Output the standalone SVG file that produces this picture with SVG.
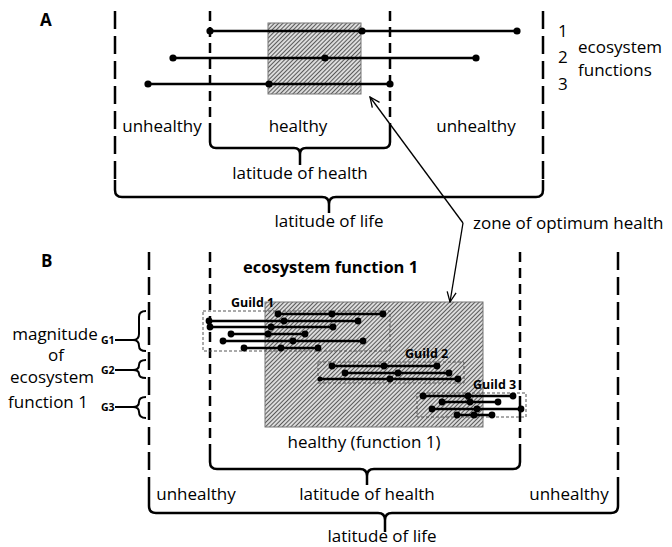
<svg xmlns="http://www.w3.org/2000/svg" width="672" height="547" viewBox="0 0 672 547">
<defs>
<pattern id="hatch" patternUnits="userSpaceOnUse" width="3" height="3" patternTransform="rotate(45)">
<rect width="3" height="3" fill="#dcdcdc"/>
<line x1="0.5" y1="0" x2="0.5" y2="3" stroke="#5a5a5a" stroke-width="1"/>
</pattern>
<marker id="arr" viewBox="0 0 12 12" refX="11" refY="6" markerWidth="12" markerHeight="12" markerUnits="userSpaceOnUse" orient="auto"><path d="M1,1.5 L11,6 L1,10.5" fill="none" stroke="#000" stroke-width="1.3"/></marker>
</defs>
<style>
text{font-family:"Open Sans","Liberation Sans",sans-serif;fill:#000}
.t{font-size:17px}
.m{text-anchor:middle}
.b{font-weight:700}
.dl{stroke:#000;stroke-width:2.5;fill:none;stroke-dasharray:18 7}
.ds{stroke:#000;stroke-width:2.5;fill:none;stroke-dasharray:10 6}
.br{stroke:#000;stroke-width:2.5;fill:none}
.gbr{stroke:#000;stroke-width:2;fill:none}
.fl{stroke:#000;stroke-width:2.5}
.hz{fill:url(#hatch);stroke:#777;stroke-width:1}
.gb{fill:none;stroke:#555;stroke-width:1;stroke-dasharray:3 2}
.c{stroke:#000;stroke-width:1.3;fill:none}
.g{font-size:12.5px;font-weight:700}
.gl{font-size:10.5px;font-weight:700}
</style>
<rect width="672" height="547" fill="#fff"/>

<!-- Panel A -->
<g id="panelA">
<text x="40" y="26" class="b" font-size="17">A</text>
<rect id="zoneA" class="hz" x="268" y="23" width="93" height="71"/>
<g id="boundsA">
<line class="dl" x1="115" y1="11" x2="115" y2="180"/>
<line class="dl" x1="543" y1="11" x2="543" y2="180"/>
<line class="ds" x1="210" y1="11" x2="210" y2="132"/>
<line class="ds" x1="390" y1="11" x2="390" y2="132"/>
</g>
<g id="functionsA">
<line class="fl" x1="210" y1="31" x2="517" y2="31"/>
<circle cx="210" cy="31" r="3.6"/><circle cx="362" cy="31" r="3.6"/><circle cx="517" cy="31" r="3.6"/>
<line class="fl" x1="173" y1="58" x2="476" y2="58"/>
<circle cx="173" cy="58" r="3.6"/><circle cx="325" cy="58" r="3.6"/><circle cx="476" cy="58" r="3.6"/>
<line class="fl" x1="148" y1="84" x2="390" y2="84"/>
<circle cx="148" cy="84" r="3.6"/><circle cx="269" cy="84" r="3.6"/><circle cx="390" cy="84" r="3.6"/>
</g>
<g id="labelsA">
<text class="t" x="558" y="37">1</text>
<text class="t" x="558" y="63">2</text>
<text class="t" x="558" y="90">3</text>
<text class="t" x="578" y="53">ecosystem</text>
<text class="t" x="578" y="76">functions</text>
<text class="t m" x="162" y="132">unhealthy</text>
<text class="t m" x="298" y="132">healthy</text>
<text class="t m" x="476" y="132">unhealthy</text>
</g>
<g id="healthBraceA">
<path class="br" d="M210,132 L210,142 Q210,148 216,148 L294,148 Q300,148 300,154 L300,165 M300,154 Q300,148 306,148 L384,148 Q390,148 390,142 L390,132"/>
<text class="t m" x="300" y="179">latitude of health</text>
</g>
<g id="lifeBraceA">
<path class="br" d="M115,180 L115,190 Q115,197 122,197 L322,197 Q329,197 329,204 L329,213 M329,204 Q329,197 336,197 L536,197 Q543,197 543,190 L543,180"/>
<text class="t m" x="329" y="227">latitude of life</text>
</g>
</g>

<g id="zoneLabel">
<text class="t" x="473" y="229">zone of optimum health</text>
</g>

<!-- Panel B -->
<g id="panelB">
<text x="41" y="267" class="b" font-size="17">B</text>
<text x="243" y="273" class="b" font-size="16.5">ecosystem function 1</text>
<rect id="zoneB" class="hz" x="265" y="302" width="218" height="125"/>
<g id="boundsB">
<line class="dl" x1="149" y1="252" x2="149" y2="495"/>
<line class="dl" x1="618" y1="252" x2="618" y2="495"/>
<line class="ds" x1="210" y1="252" x2="210" y2="447"/>
<line class="ds" x1="520" y1="252" x2="520" y2="447"/>
</g>
<g id="axisLabel">
<text class="t m" x="55" y="340">magnitude</text>
<text class="t m" x="56" y="361">of</text>
<text class="t m" x="52" y="383">ecosystem</text>
<text class="t m" x="48" y="408">function 1</text>
</g>
<g id="G1">
<text class="gl" x="101" y="344">G1</text>
<path class="gbr" d="M146,311 Q139,311 139,317 L139,334 Q139,340 133,340 L115,340 M133,340 Q139,340 139,346 Q139,351 146,351"/>
</g>
<g id="G2">
<text class="gl" x="101" y="374">G2</text>
<path class="gbr" d="M146,360 Q139,360 139,365 Q139,370 133,370 L115,370 M133,370 Q139,370 139,374 Q139,378 146,378"/>
</g>
<g id="G3">
<text class="gl" x="101" y="411">G3</text>
<path class="gbr" d="M146,397 Q139,397 139,402 Q139,407 133,407 L115,407 M133,407 Q139,407 139,412 Q139,418 146,418"/>
</g>
<g id="guild1">
<rect class="gb" x="203" y="311" width="187" height="40"/>
<text class="g" x="231" y="307">Guild 1</text>
<line class="fl" x1="278" y1="314" x2="383" y2="314"/><circle cx="278" cy="314" r="3.4"/><circle cx="332" cy="314" r="3.4"/><circle cx="383" cy="314" r="3.4"/>
<line class="fl" x1="209" y1="321" x2="358" y2="321"/><circle cx="209" cy="321" r="3.4"/><circle cx="284" cy="321" r="3.4"/><circle cx="358" cy="321" r="3.4"/>
<line class="fl" x1="210" y1="327" x2="333" y2="327"/><circle cx="210" cy="327" r="3.4"/><circle cx="271" cy="327" r="3.4"/><circle cx="333" cy="327" r="3.4"/>
<line class="fl" x1="231" y1="334" x2="305" y2="334"/><circle cx="231" cy="334" r="3.4"/><circle cx="268" cy="334" r="3.4"/><circle cx="305" cy="334" r="3.4"/>
<line class="fl" x1="223" y1="341" x2="363" y2="341"/><circle cx="223" cy="341" r="3.4"/><circle cx="293" cy="341" r="3.4"/><circle cx="363" cy="341" r="3.4"/>
<line class="fl" x1="244" y1="348" x2="318" y2="348"/><circle cx="244" cy="348" r="3.4"/><circle cx="281" cy="348" r="3.4"/><circle cx="318" cy="348" r="3.4"/>
</g>
<g id="guild2">
<rect class="gb" x="318" y="362" width="146" height="21"/>
<text class="g" x="405" y="358">Guild 2</text>
<line class="fl" x1="332" y1="366" x2="437" y2="366"/><circle cx="332" cy="366" r="3.4"/><circle cx="384" cy="366" r="3.4"/><circle cx="437" cy="366" r="3.4"/>
<line class="fl" x1="345" y1="373" x2="449" y2="373"/><circle cx="345" cy="373" r="3.4"/><circle cx="398" cy="373" r="3.4"/><circle cx="449" cy="373" r="3.4"/>
<line class="fl" x1="320" y1="379" x2="458" y2="379"/><circle cx="320" cy="379" r="2.5"/><circle cx="390" cy="379" r="3.4"/><circle cx="458" cy="379" r="3.4"/>
</g>
<g id="guild3">
<rect class="gb" x="417" y="393" width="109" height="24"/>
<text class="g" x="473" y="389">Guild 3</text>
<line class="fl" x1="423" y1="396" x2="513" y2="396"/><circle cx="423" cy="396" r="3.4"/><circle cx="468" cy="396" r="3.4"/><circle cx="513" cy="396" r="3.4"/>
<line class="fl" x1="442" y1="402" x2="498" y2="402"/><circle cx="442" cy="402" r="3.4"/><circle cx="470" cy="402" r="3.4"/><circle cx="498" cy="402" r="3.4"/>
<line class="fl" x1="432" y1="409" x2="521" y2="409"/><circle cx="432" cy="409" r="3.4"/><circle cx="477" cy="409" r="3.4"/><circle cx="521" cy="409" r="3.4"/>
<line class="fl" x1="457" y1="415" x2="492" y2="415"/><circle cx="457" cy="415" r="3.4"/><circle cx="474" cy="415" r="3.4"/><circle cx="492" cy="415" r="3.4"/>
</g>
<text class="t m" x="364" y="448">healthy (function 1)</text>
<g id="healthBraceB">
<path class="br" d="M210,447 L210,462 Q210,469 217,469 L360,469 Q367,469 367,476 L367,485 M367,476 Q367,469 374,469 L513,469 Q520,469 520,462 L520,447"/>
<text class="t m" x="367" y="500">latitude of health</text>
</g>
<text class="t m" x="196" y="500">unhealthy</text>
<text class="t m" x="569" y="500">unhealthy</text>
<g id="lifeBraceB">
<path class="br" d="M149,495 L149,506 Q149,513 156,513 L378,513 Q385,513 385,520 L385,532 M385,520 Q385,513 392,513 L611,513 Q618,513 618,506 L618,495"/>
<text class="t m" x="382" y="542">latitude of life</text>
</g>
</g>

<g id="connectors">
<line class="c" x1="463" y1="223" x2="370" y2="97" marker-end="url(#arr)"/>
<line class="c" x1="463" y1="223" x2="450" y2="302" marker-end="url(#arr)"/>
</g>
</svg>
